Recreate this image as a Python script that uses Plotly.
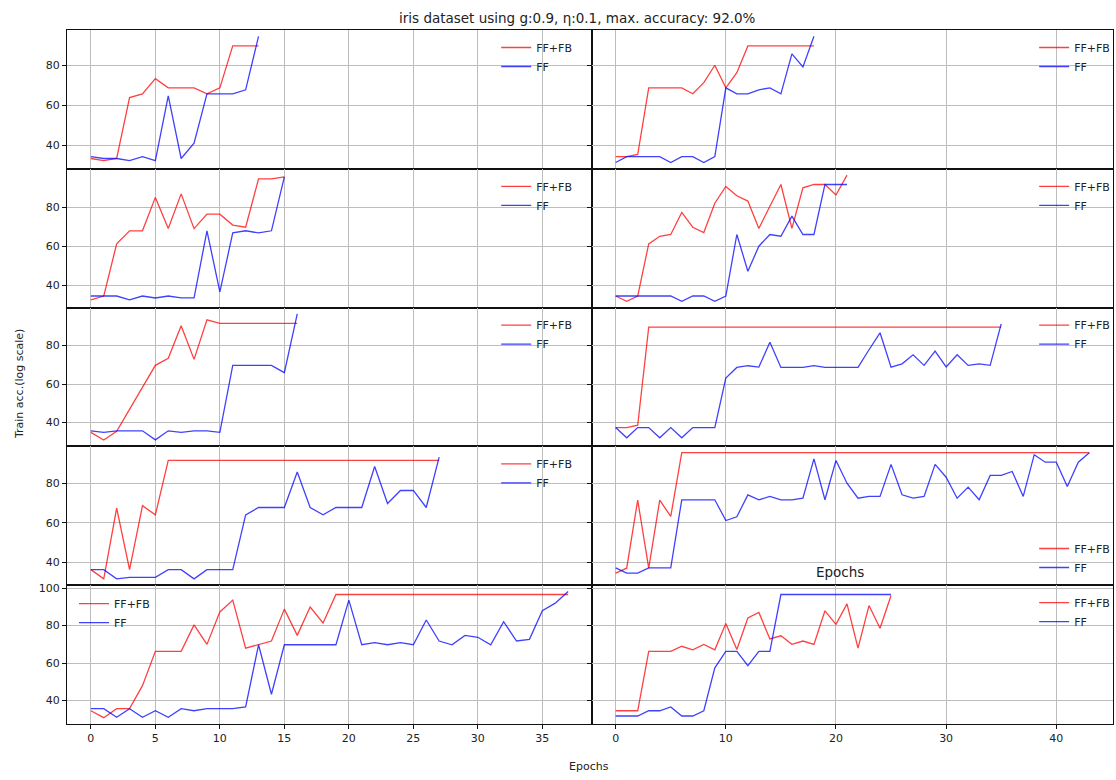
import plotly.graph_objects as go
from plotly.subplots import make_subplots

TITLE = "iris dataset using g:0.9, η:0.1, max. accuracy: 92.0%"
SERIES_NAMES = ["FF+FB", "FF"]

# ---- data (train accuracy per epoch) ----
r1_left_fffb = [33.3, 32.2, 33.3, 63.8, 65.7, 73.3, 68.7, 68.7, 68.7, 65.7, 68.7, 89.7, 89.7, 89.7]
r1_left_ff = [34.2, 33.3, 33.3, 32.2, 34.2, 32.2, 64.7, 33.3, 41.0, 65.7, 65.7, 65.7, 67.7, 94.5]

r1_right_fffb = [34.2, 34.2, 35.3, 68.7, 68.7, 68.7, 68.7, 65.7, 71.3, 80.0, 68.7, 76.3, 89.7, 89.7, 89.7,
                 89.7, 89.7, 89.7, 89.7]
r1_right_ff = [31.3, 34.2, 34.2, 34.2, 34.2, 31.3, 34.2, 34.2, 31.3, 34.2, 68.7, 65.7, 65.7, 67.7, 68.7,
               65.7, 85.7, 79.2, 94.5]

r2_left_fffb = [32.5, 34.5, 61.2, 67.9, 67.9, 85.0, 69.1, 86.8, 69.0, 76.4, 76.4, 70.8, 69.7, 94.5, 94.5, 95.5]
r2_left_ff = [34.5, 34.5, 34.5, 32.5, 34.5, 33.5, 34.5, 33.5, 33.5, 67.9, 36.6, 66.8, 67.9, 66.8, 67.9, 95.5]

r2_right_fffb = [34.5, 31.8, 34.5, 61.2, 65.1, 66.0, 77.3, 69.7, 67.0, 82.0, 90.6, 85.8, 83.1, 69.1, 80.5,
                 91.6, 69.1, 89.9, 91.6, 91.6, 86.2, 96.4]
r2_right_ff = [34.5, 34.5, 34.5, 34.5, 34.5, 34.5, 31.8, 34.5, 34.5, 31.8, 34.5, 66.0, 47.2, 60.0, 66.0,
               65.1, 75.4, 66.0, 66.0, 91.6, 91.6, 91.6]

r3_left_fffb = [34.9, 30.9, 35.5, 46.9, 57.6, 69.7, 73.4, 90.3, 72.8, 93.3, 91.5, 91.5, 91.5, 91.5, 91.5,
                91.5, 91.5]
r3_left_ff = [35.7, 34.9, 35.7, 35.7, 35.7, 31.0, 35.7, 34.9, 35.7, 35.7, 34.9, 69.7, 69.7, 69.7, 69.7,
              65.9, 96.4]

r3_right_fffb = [37.4, 37.4, 38.6, 89.5, 89.5, 89.5, 89.5, 89.5, 89.5, 89.5, 89.5, 89.5, 89.5, 89.5, 89.5,
                 89.5, 89.5, 89.5, 89.5, 89.5, 89.5, 89.5, 89.5, 89.5, 89.5, 89.5, 89.5, 89.5, 89.5, 89.5,
                 89.5, 89.5, 89.5, 89.5, 89.5, 89.5]
r3_right_ff = [37.4, 32.1, 37.4, 37.4, 32.1, 37.4, 32.1, 37.4, 37.4, 37.4, 63.1, 68.6, 69.5, 68.8, 81.7,
               68.6, 68.6, 68.6, 69.5, 68.6, 68.6, 68.6, 68.6, 77.8, 86.6, 68.8, 70.5, 75.2, 69.7, 77.1,
               68.9, 75.2, 69.7, 70.5, 69.7, 91.2]

r4_left_fffb = [36.3, 31.6, 67.4, 36.3, 68.6, 64.0, 91.5, 91.5, 91.5, 91.5, 91.5, 91.5, 91.5, 91.5, 91.5,
                91.5, 91.5, 91.5, 91.5, 91.5, 91.5, 91.5, 91.5, 91.5, 91.5, 91.5, 91.5, 91.5]
r4_left_ff = [36.3, 36.3, 31.6, 32.4, 32.4, 32.4, 36.3, 36.3, 31.6, 36.3, 36.3, 36.3, 64.0, 67.7, 67.7,
              67.7, 85.6, 67.7, 64.0, 67.7, 67.7, 67.7, 88.4, 69.7, 76.3, 76.3, 67.7, 93.2]

r4_right_fffb = [34.5, 37.0, 71.4, 37.0, 71.4, 63.2, 95.4, 95.4, 95.4, 95.4, 95.4, 95.4, 95.4, 95.4, 95.4,
                 95.4, 95.4, 95.4, 95.4, 95.4, 95.4, 95.4, 95.4, 95.4, 95.4, 95.4, 95.4, 95.4, 95.4, 95.4,
                 95.4, 95.4, 95.4, 95.4, 95.4, 95.4, 95.4, 95.4, 95.4, 95.4, 95.4, 95.4, 95.4, 95.4]
r4_right_ff = [37.2, 34.5, 34.5, 37.2, 37.2, 37.2, 71.6, 71.6, 71.6, 71.6, 61.1, 63.0, 74.1, 71.6, 73.3,
               71.6, 71.6, 72.4, 92.3, 71.6, 91.5, 80.0, 72.4, 73.3, 73.3, 89.5, 74.1, 72.4, 73.3, 89.5,
               83.0, 72.4, 78.0, 71.6, 83.9, 83.9, 85.9, 73.3, 94.4, 90.6, 90.6, 78.3, 90.6, 95.4]

r5_left_fffb = [34.6, 30.9, 35.7, 35.7, 48.0, 66.3, 66.3, 66.3, 80.4, 70.0, 87.3, 93.6, 68.0, 69.8, 71.8,
                88.8, 74.8, 89.9, 81.4, 96.6, 96.6, 96.6, 96.6, 96.6, 96.6, 96.6, 96.6, 96.6, 96.6, 96.6,
                96.6, 96.6, 96.6, 96.6, 96.6, 96.6, 96.6, 96.6]
r5_left_ff = [35.7, 35.7, 31.1, 35.7, 31.1, 34.6, 31.1, 35.7, 34.6, 35.7, 35.7, 35.7, 36.6, 69.8, 43.4,
              69.8, 69.8, 69.8, 69.8, 69.8, 93.6, 69.8, 70.9, 69.8, 70.9, 69.8, 83.0, 71.8, 69.8, 74.8,
              73.8, 69.8, 82.1, 71.8, 72.7, 88.0, 92.0, 98.2]

r5_right_fffb = [34.6, 34.6, 34.6, 66.3, 66.3, 66.3, 69.0, 67.1, 70.0, 67.1, 81.1, 67.3, 84.1, 87.0, 72.9,
                 74.6, 70.0, 71.8, 70.0, 87.9, 80.7, 91.6, 68.0, 90.7, 78.6, 96.1]
r5_right_ff = [31.8, 31.8, 31.8, 34.6, 34.6, 36.6, 31.8, 31.8, 34.6, 57.5, 66.3, 66.3, 58.6, 66.3, 66.3,
               96.6, 96.6, 96.6, 96.6, 96.6, 96.6, 96.6, 96.6, 96.6, 96.6, 96.6]

left_xticks = [0, 5, 10, 15, 20, 25, 30, 35]
right_xticks = [0, 10, 20, 30, 40]

panels = [
    [(r1_left_fffb, r1_left_ff), (r1_right_fffb, r1_right_ff)],
    [(r2_left_fffb, r2_left_ff), (r2_right_fffb, r2_right_ff)],
    [(r3_left_fffb, r3_left_ff), (r3_right_fffb, r3_right_ff)],
    [(r4_left_fffb, r4_left_ff), (r4_right_fffb, r4_right_ff)],
    [(r5_left_fffb, r5_left_ff), (r5_right_fffb, r5_right_ff)],
]

# ---- layout constants (pixels) ----
W, H = 1116, 780
ML, MR, MT, MB = 67, 1, 30, 56
PW, PH = W - ML - MR, H - MT - MB
FONT = "DejaVu Sans"
COLORS = ["rgba(255,0,0,0.75)", "rgba(0,0,255,0.75)"]


def px_x(px):
    return (px - ML) / PW


def px_y(py):
    return (H - MB - py) / PH


fig = make_subplots(rows=5, cols=2, vertical_spacing=0, horizontal_spacing=0,
                    column_widths=[526, 522])

# legend placement: (line start px x, first entry centre px y)
row_tops = [30 + r * PH / 5 for r in range(5)]
legend_pos = {}
for r in range(5):
    legend_pos[(r, 0)] = (503, row_tops[r] + 14)
    legend_pos[(r, 1)] = (1042, row_tops[r] + 14)
legend_pos[(4, 0)] = (80, row_tops[4] + 15)
legend_pos[(3, 1)] = (1042, 545)

col_xmax = [0, 0]
for r in range(5):
    for c in range(2):
        for s in panels[r][c]:
            col_xmax[c] = max(col_xmax[c], len(s) - 1)

li = 0
for r in range(5):
    ymin = min(min(s) for pair in panels[r] for s in pair)
    ymax = max(max(s) for pair in panels[r] for s in pair)
    pad = 0.05 * (ymax - ymin)
    for c in range(2):
        li += 1
        lname = "legend" if li == 1 else f"legend{li}"
        for k, s in enumerate(panels[r][c]):
            fig.add_trace(go.Scatter(x=list(range(len(s))), y=s, mode="lines", name=SERIES_NAMES[k],
                                     line=dict(color=COLORS[k], width=1.3), legend=lname,
                                     showlegend=True),
                          row=r + 1, col=c + 1)
        lx, ly = legend_pos[(r, c)]
        fig.update_layout({lname: dict(x=px_x(lx - 6), y=px_y(ly - 11), xanchor="left", yanchor="top",
                                       bgcolor="rgba(0,0,0,0)", borderwidth=0,
                                       font=dict(family=FONT, size=11, color="#222"),
                                       tracegroupgap=0, itemwidth=30)})
        xpad = 0.05 * col_xmax[c]
        fig.update_xaxes(range=[-xpad, col_xmax[c] + xpad],
                         tickvals=left_xticks if c == 0 else right_xticks,
                         showticklabels=(r == 4), row=r + 1, col=c + 1)
        fig.update_yaxes(range=[ymin - pad, ymax + pad], dtick=20, tick0=0,
                         showticklabels=(c == 0), row=r + 1, col=c + 1)

fig.update_xaxes(showline=True, mirror=True, linecolor="#111", linewidth=1, ticks="outside", ticklen=4,
                 tickcolor="#111", showgrid=True, gridcolor="#bdbdbd", gridwidth=1, zeroline=False,
                 tickfont=dict(family=FONT, size=11, color="#222"))
fig.update_yaxes(showline=True, mirror=True, linecolor="#111", linewidth=1, ticks="outside", ticklen=4,
                 tickcolor="#111", showgrid=True, gridcolor="#bdbdbd", gridwidth=1, zeroline=False,
                 tickfont=dict(family=FONT, size=11, color="#222"))

fig.add_annotation(text=TITLE, xref="paper", yref="paper", x=px_x(578), y=px_y(18), showarrow=False,
                   font=dict(family=FONT, size=13.5, color="#222"), xanchor="center", yanchor="middle")
fig.add_annotation(text="Epochs", xref="paper", yref="paper", x=px_x(590), y=px_y(766), showarrow=False,
                   font=dict(family=FONT, size=11, color="#222"), xanchor="center", yanchor="middle")
fig.add_annotation(text="Train acc.(log scale)", xref="paper", yref="paper", x=px_x(19), y=px_y(384),
                   showarrow=False, textangle=-90,
                   font=dict(family=FONT, size=11, color="#222"), xanchor="center", yanchor="middle")
fig.add_annotation(text="Epochs", xref="paper", yref="paper", x=px_x(841), y=px_y(572), showarrow=False,
                   font=dict(family=FONT, size=13.5, color="#222"), xanchor="center", yanchor="middle")

fig.update_layout(width=W, height=H, margin=dict(l=ML, r=MR, t=MT, b=MB),
                  paper_bgcolor="white", plot_bgcolor="white",
                  font=dict(family=FONT, size=11, color="#222"))

fig.write_html("out.html")
